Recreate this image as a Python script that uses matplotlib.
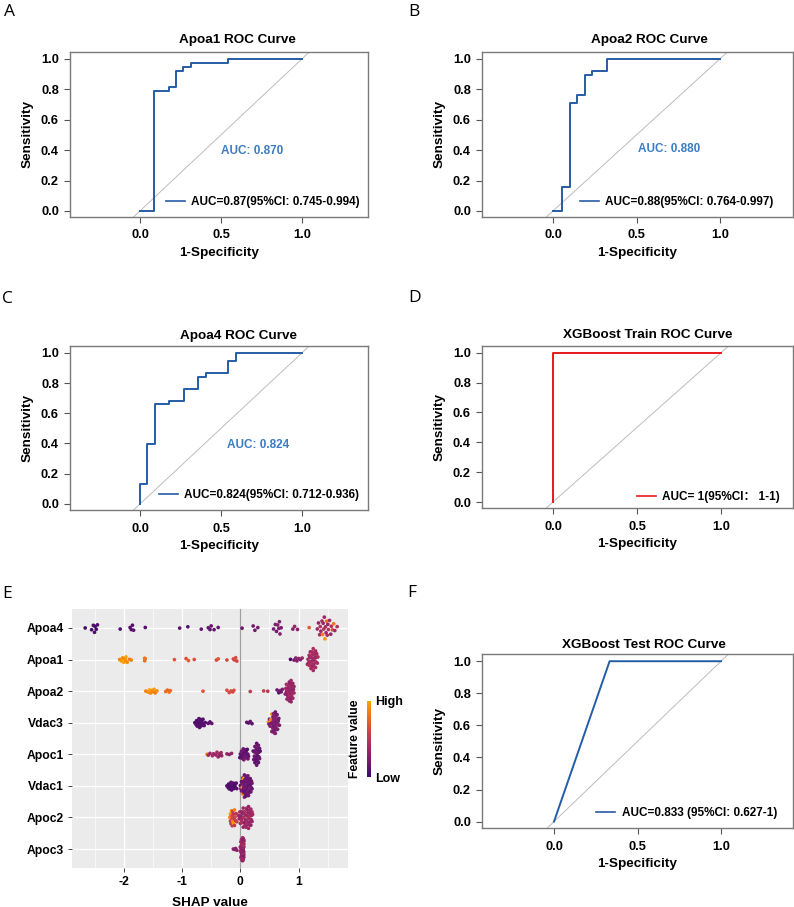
import numpy as np
import matplotlib
matplotlib.use('Agg')
import matplotlib.pyplot as plt
from matplotlib.colors import LinearSegmentedColormap, Normalize
from matplotlib.lines import Line2D

plt.rcParams['font.family'] = ['Liberation Sans', 'Noto Sans CJK SC', 'DejaVu Sans']
plt.rcParams['font.weight'] = 'bold'
plt.rcParams['axes.unicode_minus'] = False

# ---- ROC curves (1-specificity, sensitivity) ----
apoa1_fpr = [0, 0.087, 0.179, 0.223, 0.268, 0.313, 0.542, 1.0]
apoa1_tpr = [0, 0.789, 0.816, 0.921, 0.947, 0.974, 1.0, 1.0]
apoa2_fpr = [0, 0.052, 0.099, 0.145, 0.189, 0.231, 0.324, 1.0]
apoa2_tpr = [0, 0.158, 0.711, 0.763, 0.895, 0.921, 1.0, 1.0]
apoa4_fpr = [0, 0, 0.045, 0.094, 0.181, 0.271, 0.361, 0.407, 0.542, 0.591, 1.0]
apoa4_tpr = [0, 0.132, 0.395, 0.658, 0.684, 0.763, 0.842, 0.868, 0.947, 1.0, 1.0]
train_fpr = [0, 0, 1.0]
train_tpr = [0, 1.0, 1.0]
test_fpr = [0, 0.333, 1.0]
test_tpr = [0, 1.0, 1.0]

# ---- SHAP summary: shap value and scaled feature value per sample ----
features = ['Apoa4', 'Apoa1', 'Apoa2', 'Vdac3', 'Apoc1', 'Vdac1', 'Apoc2', 'Apoc3']

shap_apoa4 = [-2.66, -2.55, -2.52, -2.50, -2.49, -2.47, -2.45,
              -2.06, -1.89, -1.87, -1.85, -1.83, -1.63,
              -1.04, -0.90, -0.67, -0.55, -0.52, -0.50, -0.45, -0.38,
              0.03, 0.22, 0.25, 0.30,
              0.57, 0.60, 0.62, 0.64, 0.66, 0.67, 0.68, 0.70,
              0.90, 0.93, 0.98, 1.18,
              1.32, 1.34, 1.36, 1.37, 1.38, 1.40, 1.41, 1.42, 1.43, 1.44, 1.45, 1.46,
              1.47, 1.48, 1.49, 1.50, 1.51, 1.53, 1.55, 1.56, 1.58, 1.60, 1.62, 1.66]
fval_apoa4 = [0.03, 0.05, 0.04, 0.06, 0.05, 0.04, 0.06,
              0.08, 0.07, 0.09, 0.08, 0.10, 0.08,
              0.12, 0.10, 0.14, 0.15, 0.13, 0.16, 0.14, 0.15,
              0.18, 0.20, 0.17, 0.22,
              0.22, 0.25, 0.21, 0.27, 0.24, 0.26, 0.28, 0.23,
              0.30, 0.32, 0.28, 0.70,
              0.38, 0.34, 0.40, 0.44, 0.36, 0.42, 0.85, 0.37, 0.45, 0.35, 0.95, 0.40,
              0.38, 0.80, 0.43, 0.36, 0.48, 0.40, 0.35, 0.44, 0.66, 0.82, 0.38, 0.46]

shap_apoa1 = [-2.07, -2.04, -2.02, -2.00, -1.98, -1.97, -1.96, -1.94, -1.90, -1.87,
              -1.64, -1.64, -1.63,
              -1.13, -0.93, -0.89, -0.79, -0.41, -0.38, -0.23,
              -0.12, -0.10, -0.08, -0.06,
              0.86, 0.92, 0.95, 0.97, 1.00, 1.03, 1.06,
              1.15, 1.16, 1.17, 1.18, 1.18, 1.19, 1.20, 1.20, 1.21, 1.22, 1.22, 1.23,
              1.23, 1.24, 1.24, 1.25, 1.25, 1.26, 1.26, 1.27, 1.27, 1.28, 1.28, 1.29,
              1.29, 1.30, 1.30, 1.31, 1.32, 1.33]
fval_apoa1 = [0.88, 0.95, 0.90, 0.98, 0.86, 0.92, 1.00, 0.90, 0.85, 0.88,
              0.80, 0.78, 0.82,
              0.68, 0.66, 0.70, 0.66, 0.64, 0.68, 0.62,
              0.64, 0.60, 0.66, 0.62,
              0.04, 0.22, 0.30, 0.26, 0.34, 0.28, 0.36,
              0.38, 0.42, 0.36, 0.40, 0.44, 0.38, 0.41, 0.37, 0.43, 0.39, 0.45, 0.40,
              0.36, 0.42, 0.38, 0.44, 0.40, 0.37, 0.41, 0.43, 0.39, 0.45, 0.38, 0.40,
              0.42, 0.36, 0.44, 0.39, 0.41, 0.43]

shap_apoa2 = [-1.62, -1.58, -1.56, -1.54, -1.52, -1.50, -1.48, -1.46, -1.43,
              -1.28, -1.25, -1.22, -1.20,
              -0.64, -0.23, -0.19, -0.16, -0.13, -0.11,
              0.17, 0.40, 0.47,
              0.63, 0.66, 0.68, 0.70, 0.72,
              0.77, 0.78, 0.79, 0.79, 0.80, 0.81, 0.81, 0.82, 0.82, 0.83, 0.83, 0.84,
              0.84, 0.85, 0.85, 0.85, 0.86, 0.86, 0.86, 0.87, 0.87, 0.87, 0.88, 0.88,
              0.88, 0.89, 0.89, 0.90, 0.90, 0.91, 0.92, 0.92]
fval_apoa2 = [0.86, 0.92, 1.00, 0.90, 0.95, 0.88, 0.96, 0.84, 0.90,
              0.80, 0.76, 0.82, 0.78,
              0.68, 0.66, 0.62, 0.65, 0.60, 0.64,
              0.52, 0.56, 0.50,
              0.20, 0.08, 0.26, 0.18, 0.24,
              0.30, 0.36, 0.32, 0.40, 0.34, 0.38, 0.30, 0.42, 0.35, 0.33, 0.39, 0.31,
              0.37, 0.34, 0.40, 0.30, 0.36, 0.42, 0.33, 0.38, 0.31, 0.35, 0.39, 0.34,
              0.30, 0.37, 0.41, 0.33, 0.36, 0.32, 0.38, 0.35]

shap_vdac3 = [-0.78, -0.76, -0.75, -0.74, -0.73, -0.72, -0.71, -0.70, -0.70, -0.69,
              -0.68, -0.67, -0.66, -0.65, -0.64, -0.62, -0.60,
              -0.55, -0.52, -0.49,
              0.11, 0.14, 0.17, 0.20,
              0.48, 0.49, 0.50, 0.51, 0.52, 0.53, 0.54, 0.54, 0.55, 0.55, 0.56, 0.56,
              0.57, 0.57, 0.57, 0.58, 0.58, 0.58, 0.59, 0.59, 0.59, 0.60, 0.60, 0.60,
              0.61, 0.61, 0.61, 0.62, 0.62, 0.63, 0.63, 0.64, 0.65, 0.65, 0.66, 0.67]
fval_vdac3 = [0.06, 0.08, 0.05, 0.09, 0.07, 0.06, 0.10, 0.08, 0.05, 0.07,
              0.09, 0.06, 0.08, 0.10, 0.07, 0.09, 0.08,
              0.12, 0.10, 0.14,
              0.12, 0.10, 0.14, 0.11,
              0.95, 0.30, 0.20, 0.26, 0.88, 0.22, 0.90, 0.28, 0.24, 0.32, 0.20, 0.25,
              0.27, 0.21, 0.30, 0.23, 0.29, 0.19, 0.26, 0.22, 0.31, 0.24, 0.18, 0.28,
              0.21, 0.25, 0.30, 0.20, 0.27, 0.23, 0.19, 0.26, 0.22, 0.28, 0.20, 0.24]

shap_apoc1 = [-0.57, -0.55, -0.52, -0.48, -0.46,
              -0.42, -0.40, -0.38, -0.36, -0.35, -0.33, -0.32,
              -0.23, -0.19, -0.15,
              -0.01, 0.00, 0.01, 0.02, 0.03, 0.04, 0.04, 0.05, 0.06, 0.07, 0.07, 0.08,
              0.09, 0.10, 0.11, 0.12, 0.13, 0.13, 0.14,
              0.22, 0.23, 0.24, 0.24, 0.25, 0.25, 0.26, 0.26, 0.27, 0.27, 0.27, 0.28,
              0.28, 0.28, 0.29, 0.29, 0.29, 0.30, 0.30, 0.30, 0.31, 0.31, 0.32, 0.32,
              0.33, 0.33, 0.34]
fval_apoc1 = [0.88, 0.40, 0.36, 0.42, 0.38,
              0.34, 0.40, 0.36, 0.44, 0.32, 0.38, 0.35,
              0.36, 0.30, 0.34,
              0.12, 0.16, 0.10, 0.18, 0.14, 0.20, 0.12, 0.16, 0.22, 0.10, 0.18, 0.14,
              0.20, 0.12, 0.16, 0.10, 0.18, 0.14, 0.12,
              0.14, 0.18, 0.12, 0.20, 0.16, 0.10, 0.22, 0.14, 0.18, 0.12, 0.16, 0.20,
              0.10, 0.14, 0.18, 0.12, 0.22, 0.16, 0.14, 0.10, 0.18, 0.12, 0.20, 0.16,
              0.14, 0.18, 0.12]

shap_vdac1 = [-0.23, -0.21, -0.20, -0.19, -0.18, -0.17, -0.16, -0.15, -0.14, -0.13,
              -0.12, -0.11, -0.10, -0.09, -0.07, -0.06,
              0.00, 0.01, 0.02, 0.02, 0.03, 0.03, 0.04, 0.04, 0.05, 0.05, 0.05, 0.06,
              0.06, 0.06, 0.07, 0.07, 0.08, 0.08, 0.08, 0.09, 0.09, 0.10, 0.10, 0.10,
              0.11, 0.11, 0.12, 0.12, 0.12, 0.13, 0.13, 0.14, 0.14, 0.15, 0.15, 0.16,
              0.16, 0.17, 0.17, 0.18, 0.18, 0.19, 0.19, 0.20, 0.20]
fval_vdac1 = [0.05, 0.08, 0.06, 0.09, 0.07, 0.05, 0.10, 0.06, 0.08, 0.07,
              0.09, 0.06, 0.08, 0.05, 0.07, 0.09,
              0.14, 0.18, 0.12, 0.20, 0.16, 0.92, 0.14, 0.85, 0.22, 0.18, 0.95, 0.12,
              0.16, 0.20, 0.14, 0.24, 0.18, 0.12, 0.22, 0.16, 0.14, 0.20, 0.18, 0.12,
              0.24, 0.16, 0.14, 0.20, 0.18, 0.12, 0.22, 0.16, 0.14, 0.20, 0.18, 0.12,
              0.16, 0.22, 0.14, 0.18, 0.12, 0.20, 0.16, 0.14, 0.18]

shap_apoc2 = [-0.18, -0.17, -0.17, -0.16, -0.16, -0.15, -0.15, -0.14, -0.14, -0.13,
              -0.13, -0.12, -0.12, -0.11, -0.10, -0.10, -0.09, -0.08, -0.07, -0.06,
              -0.03, -0.02, -0.01, 0.00, 0.01, 0.02, 0.02, 0.03, 0.04, 0.04, 0.05,
              0.05, 0.06, 0.07, 0.07, 0.08, 0.08, 0.09, 0.10, 0.10, 0.11, 0.11, 0.12,
              0.12, 0.13, 0.13, 0.14, 0.14, 0.15, 0.15, 0.16, 0.16, 0.17, 0.17, 0.18,
              0.18, 0.19, 0.19, 0.20, 0.20, 0.21]
fval_apoc2 = [0.90, 0.55, 0.98, 0.50, 0.85, 0.58, 0.92, 0.52, 0.60, 0.88,
              0.54, 0.95, 0.50, 0.56, 0.86, 0.52, 0.58, 0.54, 0.50, 0.56,
              0.40, 0.34, 0.44, 0.38, 0.30, 0.42, 0.36, 0.46, 0.32, 0.40, 0.38,
              0.34, 0.44, 0.30, 0.42, 0.36, 0.40, 0.32, 0.46, 0.38, 0.34, 0.42, 0.30,
              0.40, 0.36, 0.44, 0.32, 0.38, 0.42, 0.34, 0.40, 0.36, 0.30, 0.44, 0.38,
              0.32, 0.40, 0.36, 0.42, 0.34, 0.38]

shap_apoc3 = [-0.12, -0.10, -0.08, -0.06,
              0.00, 0.00, 0.01, 0.01, 0.01, 0.02, 0.02, 0.02, 0.02, 0.03, 0.03, 0.03,
              0.03, 0.03, 0.04, 0.04, 0.04, 0.04, 0.04, 0.04, 0.05, 0.05, 0.05, 0.05,
              0.05, 0.05, 0.05, 0.06, 0.06, 0.06, 0.06, 0.06, 0.04, 0.03, 0.02, 0.05,
              0.04, 0.03, 0.06, 0.05, 0.04, 0.03, 0.05, 0.04, 0.02, 0.06, 0.05, 0.04,
              0.03, 0.04, 0.05, 0.04, 0.03, 0.05, 0.04, 0.04, 0.05]
fval_apoc3 = [0.28, 0.32, 0.26, 0.30,
              0.30, 0.36, 0.28, 0.40, 0.34, 0.26, 0.38, 0.32, 0.42, 0.30, 0.36, 0.28,
              0.40, 0.34, 0.26, 0.38, 0.32, 0.44, 0.30, 0.36, 0.28, 0.40, 0.34, 0.26,
              0.38, 0.32, 0.42, 0.30, 0.36, 0.28, 0.40, 0.34, 0.26, 0.38, 0.32, 0.44,
              0.30, 0.36, 0.28, 0.40, 0.34, 0.26, 0.38, 0.32, 0.42, 0.30, 0.36, 0.28,
              0.40, 0.34, 0.26, 0.38, 0.32, 0.44, 0.30, 0.36, 0.28]

shap_vals = [shap_apoa4, shap_apoa1, shap_apoa2, shap_vdac3,
             shap_apoc1, shap_vdac1, shap_apoc2, shap_apoc3]
feat_vals = [fval_apoa4, fval_apoa1, fval_apoa2, fval_vdac3,
             fval_apoc1, fval_vdac1, fval_apoc2, fval_apoc3]

W, H = 794, 907
fig = plt.figure(figsize=(W / 100, H / 100), dpi=100)

BLUE = '#245CA6'
AUC_BLUE = '#3B7CC2'
BOX = '#7A7A7A'


def px_axes(l, t, r, b):
    return fig.add_axes([l / W, 1 - b / H, (r - l) / W, (b - t) / H])


def ftext(x, y, s, **kw):
    fig.text(x / W, 1 - y / H, s, **kw)


def roc_panel(box, x0px, x1px, fpr, tpr, color, step, title, title_xy,
              leg_label, leg_xy, auc_txt=None, auc_xy=None):
    l, t, r, b = box
    ax = px_axes(l, t, r, b)
    ppu = x1px - x0px
    ax.set_xlim((l - x0px) / ppu, (r - x0px) / ppu)
    ax.set_ylim(-0.04, 1.045)
    ax.plot([-0.04, 1.045], [-0.04, 1.045], color='#BDBDBD', lw=0.7, zorder=1)
    ax.plot(fpr, tpr, color=color, lw=1.4, zorder=3,
            drawstyle='steps-post' if step else 'default')
    for s in ax.spines.values():
        s.set_color(BOX)
        s.set_linewidth(1.0)
    ax.set_xticks([0, 0.5, 1.0])
    ax.set_xticklabels(['0.0', '0.5', '1.0'])
    ax.set_yticks([0, 0.2, 0.4, 0.6, 0.8, 1.0])
    ax.set_yticklabels(['0.0', '0.2', '0.4', '0.6', '0.8', '1.0'])
    ax.tick_params(length=4, width=0.8, color='#555555', labelsize=9.3, pad=4)
    ax.tick_params(axis='x', pad=5)
    ax.set_xlabel('1-Specificity', fontsize=9.7, fontweight='bold', labelpad=4)
    ax.set_ylabel('Sensitivity', fontsize=9.7, fontweight='bold', labelpad=5)
    ftext(title_xy[0], title_xy[1], title, ha='center', va='center',
          fontsize=9.7, fontweight='bold')
    if auc_txt:
        ax.text(auc_xy[0], auc_xy[1], auc_txt, color=AUC_BLUE, fontsize=8.5,
                fontweight='bold', ha='center', va='center')
    h = Line2D([], [], color=color, lw=1.2)
    ax.legend([h], [leg_label], loc='center left', bbox_to_anchor=leg_xy,
              frameon=False, borderpad=0, borderaxespad=0, handlelength=1.6,
              handletextpad=0.55, prop={'size': 8.5, 'weight': 'bold'})
    return ax


roc_panel((70, 52, 368, 217), 140, 302, apoa1_fpr, apoa1_tpr, BLUE, True,
          'Apoa1 ROC Curve', (237, 40),
          'AUC=0.87(95%CI: 0.745-0.994)', (0.322, 0.091),
          'AUC: 0.870', (0.694, 0.395))
roc_panel((482, 52, 793, 217), 553, 720, apoa2_fpr, apoa2_tpr, BLUE, True,
          'Apoa2 ROC Curve', (649, 40),
          'AUC=0.88(95%CI: 0.764-0.997)', (0.315, 0.091),
          'AUC: 0.880', (0.698, 0.408))
roc_panel((70, 346, 368, 510), 140, 302, apoa4_fpr, apoa4_tpr, BLUE, True,
          'Apoa4 ROC Curve', (239, 336),
          'AUC=0.824(95%CI: 0.712-0.936)', (0.299, 0.091),
          'AUC: 0.824', (0.728, 0.387))
roc_panel((482, 346, 793, 508), 553, 721, train_fpr, train_tpr, '#E8191C', False,
          'XGBoost Train ROC Curve', (648, 335),
          'AUC= 1(95%CI\uff1a 1-1)', (0.498, 0.068))
roc_panel((482, 654, 793, 828), 554, 721, test_fpr, test_tpr, BLUE, False,
          'XGBoost Test ROC Curve', (644, 645),
          'AUC=0.833 (95%CI: 0.627-1)', (0.367, 0.086))

# ---- SHAP summary panel ----
cmap = LinearSegmentedColormap.from_list(
    'inf', plt.get_cmap('inferno')(np.linspace(0.2, 0.8, 256)))
norm = Normalize(0, 1)

axE = px_axes(72, 609, 348, 868)
axE.set_facecolor('#EBEBEB')
for s in axE.spines.values():
    s.set_visible(False)
axE.set_xlim(-2.886, 1.846)
axE.set_ylim(0.4, 8.6)
axE.set_xticks([-2, -1, 0, 1])
axE.set_xticks([-2.5, -1.5, -0.5, 0.5, 1.5], minor=True)
ypos = np.arange(len(features), 0, -1)
axE.set_yticks(ypos)
axE.set_yticklabels(features)
axE.grid(True, which='major', color='white', lw=0.9)
axE.grid(True, which='minor', axis='x', color='white', lw=0.45)
axE.set_axisbelow(True)
axE.tick_params(which='major', length=3, width=0.7, color='#444444',
                labelsize=8.7, pad=3)
axE.tick_params(which='minor', length=0)
axE.axvline(0, color='#A0A0A0', lw=0.9, zorder=1)
axE.set_xlabel('SHAP value', fontsize=9.7, fontweight='bold', labelpad=6)


def vdc(n):
    v, d = 0.0, 1.0
    while n:
        d *= 2
        n, r = divmod(n, 2)
        v += r / d
    return v


for y, sv, fv in zip(ypos, shap_vals, feat_vals):
    sv = np.array(sv)
    fv = np.array(fv)
    bw = 0.04
    dens = np.exp(-0.5 * ((sv[:, None] - sv[None, :]) / bw) ** 2).sum(axis=1)
    dens = dens / dens.max()
    order = np.argsort(sv, kind='stable')
    off = np.zeros(len(sv))
    for k, i in enumerate(order):
        off[i] = (2 * vdc(k + 1) - 1) * 0.38 * dens[i]
    axE.scatter(sv, y + off, c=fv, cmap=cmap, norm=norm, s=7,
                linewidths=0, zorder=3)

cax = px_axes(367, 701, 371, 777)
grad = np.linspace(1, 0, 200)[:, None]
cax.imshow(grad, aspect='auto', cmap=cmap, norm=norm)
cax.set_axis_off()
ftext(375, 702, 'High', ha='left', va='center', fontsize=9, fontweight='bold')
ftext(375, 779, 'Low', ha='left', va='center', fontsize=9, fontweight='bold')
ftext(355, 739, 'Feature value', ha='center', va='center', rotation=90,
      fontsize=8.7, fontweight='bold')

# panel letters
for lab, x, y in [('A', 4, 4), ('B', 408, 4), ('C', 2, 291), ('D', 408, 290),
                  ('E', 2, 586), ('F', 407, 585)]:
    ftext(x, y, lab, ha='left', va='top', fontsize=12.5, fontweight='normal',
          family='Open Sans')

fig.savefig('out.png', dpi=100)
